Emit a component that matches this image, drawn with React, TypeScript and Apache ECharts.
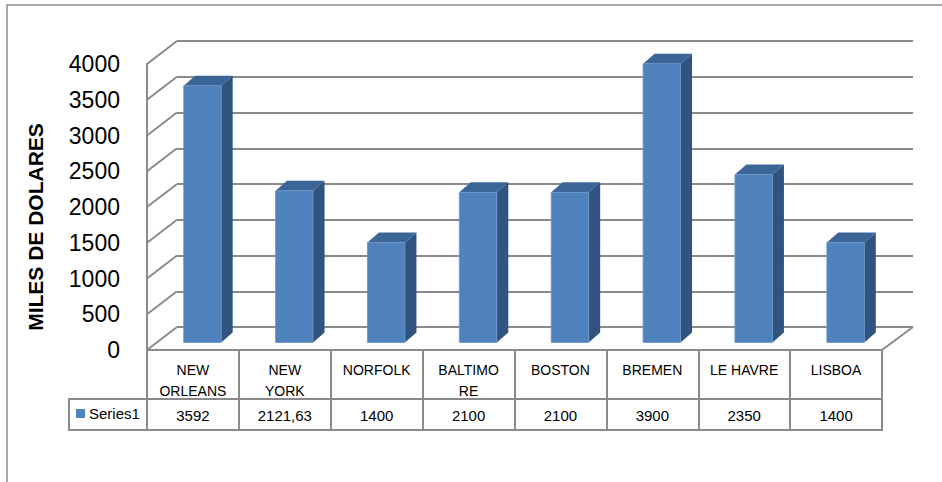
import React, { useEffect, useRef } from "react";
import * as echarts from "echarts";

const categories = ["NEW\nORLEANS", "NEW\nYORK", "NORFOLK", "BALTIMO\nRE", "BOSTON", "BREMEN", "LE HAVRE", "LISBOA"];
const values = [3592, 2121.63, 1400, 2100, 2100, 3900, 2350, 1400];
const seriesName = "Series1";
const yMin = 0;
const yMax = 4000;
const yInterval = 500;
const yTitle = "MILES DE DOLARES";

const FONT = '"Liberation Sans", Arial, sans-serif';
const GRID_COLOR = "#8A8A8A";

// front plane / back wall geometry
const FRONT = { left: 147, right: 882, top: 64, bottom: 350 };
const WALL_DX = 30;
const WALL_DY = -23;
const BAR_RATIO = 0.408;
const BAR_OFF_X = 9.5;
const BAR_OFF_Y = -7.5;
const BAR_DX = 11.5;
const BAR_DY = -10;

const tickValues: number[] = [];
for (let v = yMin; v <= yMax; v += yInterval) tickValues.push(v);

const fmt = (v: number) => String(v).replace(".", ",");

export default function App() {
  const ref = useRef<HTMLDivElement>(null);
  useEffect(() => {
    if (!ref.current) return;
    const chart = echarts.init(ref.current, null, { renderer: "svg" });
    const frontGrid = {
      left: FRONT.left,
      top: FRONT.top,
      width: FRONT.right - FRONT.left,
      height: FRONT.bottom - FRONT.top,
    };
    const backGrid = {
      left: FRONT.left + WALL_DX,
      top: FRONT.top + WALL_DY,
      width: FRONT.right - FRONT.left + 1,
      height: FRONT.bottom - FRONT.top,
    };
    const rowMid = FRONT.bottom + 49;
    const rowBot = FRONT.bottom + 80;
    const legendLeft = 69;

    chart.setOption({
      animation: false,
      backgroundColor: "#fff",
      grid: [backGrid, frontGrid],
      legend: {
        data: [seriesName],
        left: 76,
        top: rowMid + 7,
        padding: 0,
        itemWidth: 9,
        itemHeight: 9,
        itemGap: 4,
        icon: "rect",
        textStyle: { fontFamily: FONT, fontSize: 15, color: "#000", padding: [0, 0, 0, -1] },
      },
      xAxis: [
        { gridIndex: 0, type: "category", data: categories, show: false },
        {
          gridIndex: 1,
          type: "category",
          data: categories,
          position: "bottom",
          axisLine: { show: true, lineStyle: { color: GRID_COLOR, width: 2 } },
          axisTick: { show: true, interval: 0, length: 80, lineStyle: { color: GRID_COLOR, width: 2 } },
          axisLabel: { interval: 0, margin: 9, fontFamily: FONT, fontSize: 14, lineHeight: 21, color: "#000" },
        },
        {
          gridIndex: 1,
          type: "category",
          data: values.map(fmt),
          position: "bottom",
          offset: 49,
          axisLine: { show: true, lineStyle: { color: GRID_COLOR, width: 2 } },
          axisTick: { show: false },
          axisLabel: { interval: 0, margin: 8, fontFamily: FONT, fontSize: 15, lineHeight: 16, color: "#000" },
        },
      ],
      yAxis: [
        {
          gridIndex: 0,
          type: "value",
          min: yMin,
          max: yMax,
          interval: yInterval,
          axisLine: { show: false },
          axisTick: { show: false },
          axisLabel: { show: false },
          splitLine: { show: true, lineStyle: { color: GRID_COLOR, width: 2 } },
        },
        {
          gridIndex: 1,
          type: "value",
          min: yMin,
          max: yMax,
          interval: yInterval,
          axisLine: { show: true, lineStyle: { color: GRID_COLOR, width: 2 } },
          axisTick: { show: false },
          splitLine: { show: false },
          axisLabel: {
            margin: 27,
            fontFamily: FONT,
            fontSize: 23,
            color: "#000",
            formatter: (v: number) => String(v),
          },
        },
      ],
      graphic: [
        {
          type: "rect",
          silent: true,
          shape: { x: 7, y: 5, width: 1000, height: 1000 },
          style: { fill: "none", stroke: "#8C8C8C", lineWidth: 1.5 },
        },
        {
          type: "text",
          x: 35,
          y: 227,
          rotation: Math.PI / 2,
          style: {
            text: yTitle,
            fontFamily: FONT,
            fontWeight: "bold",
            fontSize: 21,
            fill: "#000",
            align: "center",
            verticalAlign: "middle",
          },
        },
        {
          type: "line",
          shape: { x1: legendLeft, y1: rowMid, x2: FRONT.left, y2: rowMid },
          style: { stroke: GRID_COLOR, lineWidth: 2 },
        },
        {
          type: "line",
          shape: { x1: legendLeft, y1: rowBot, x2: FRONT.right + 1, y2: rowBot },
          style: { stroke: GRID_COLOR, lineWidth: 2 },
        },
        {
          type: "line",
          shape: { x1: legendLeft, y1: rowMid - 1, x2: legendLeft, y2: rowBot + 1 },
          style: { stroke: GRID_COLOR, lineWidth: 2 },
        },
      ],
      series: [
        {
          type: "custom",
          name: "walls",
          xAxisIndex: 1,
          yAxisIndex: 1,
          silent: true,
          z: 1,
          data: tickValues.map((v) => [0, v]),
          renderItem: (params: any, api: any) => {
            const v = api.value(1);
            const p = api.coord([0, v]);
            const bw = api.size([1, 0])[0];
            const left = p[0] - bw / 2;
            const children: any[] = [
              {
                type: "line",
                shape: { x1: left, y1: p[1], x2: left + WALL_DX, y2: p[1] + WALL_DY },
                style: { stroke: GRID_COLOR, lineWidth: 2 },
              },
            ];
            if (v === yMin) {
              const pr = api.coord([categories.length - 1, v]);
              const right = pr[0] + bw / 2;
              children.push({
                type: "line",
                shape: { x1: right, y1: pr[1], x2: right + WALL_DX + 1, y2: pr[1] + WALL_DY },
                style: { stroke: GRID_COLOR, lineWidth: 2 },
              });
            }
            return { type: "group", children };
          },
        },
        {
          type: "custom",
          name: seriesName,
          xAxisIndex: 1,
          yAxisIndex: 1,
          z: 3,
          itemStyle: { color: "#4F81BD" },
          data: values.map((v, i) => [i, v]),
          renderItem: (params: any, api: any) => {
            const i = api.value(0);
            const v = api.value(1);
            const p = api.coord([i, v]);
            const p0 = api.coord([i, 0]);
            const bw = api.size([1, 0])[0];
            const w = bw * BAR_RATIO;
            const x0 = p[0] + BAR_OFF_X - w / 2;
            const x1 = x0 + w;
            const yT = p[1] + BAR_OFF_Y;
            const yB = p0[1] + BAR_OFF_Y;
            return {
              type: "group",
              children: [
                {
                  type: "polygon",
                  shape: {
                    points: [
                      [x1, yT],
                      [x1 + BAR_DX, yT + BAR_DY],
                      [x1 + BAR_DX, yB + BAR_DY],
                      [x1, yB],
                    ],
                  },
                  style: { fill: "#31537F" },
                },
                {
                  type: "polygon",
                  shape: {
                    points: [
                      [x0, yT],
                      [x1, yT],
                      [x1 + BAR_DX, yT + BAR_DY],
                      [x0 + BAR_DX, yT + BAR_DY],
                    ],
                  },
                  style: { fill: "#3B6497" },
                },
                {
                  type: "rect",
                  shape: { x: x0, y: yT, width: w, height: yB - yT },
                  style: { fill: "#4F81BD", stroke: "#6A95C8", lineWidth: 0.8 },
                },
              ],
            };
          },
        },
      ],
    });
    return () => chart.dispose();
  }, []);
  return (
    <div
      ref={ref}
      style={{ position: "fixed", left: 0, top: 0, width: 942, height: 482, background: "#fff" }}
    />
  );
}
